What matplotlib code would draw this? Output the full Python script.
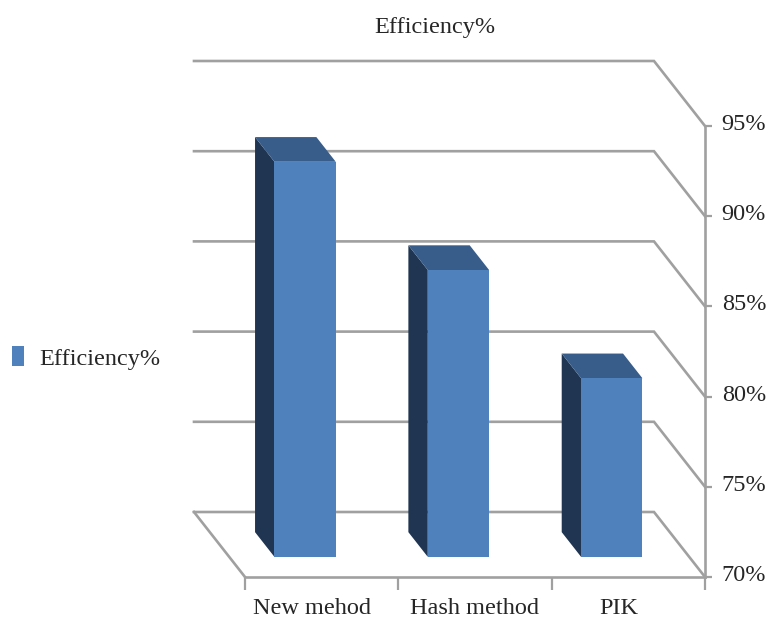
import matplotlib

matplotlib.use('agg')
import matplotlib.pyplot as plt
from matplotlib.patches import Patch, Polygon
from matplotlib.transforms import ScaledTranslation

categories = ['New mehod', 'Hash method', 'PIK']
efficiency = [91.9, 85.9, 79.9]
y_ticks = [70, 75, 80, 85, 90, 95]
series_name = 'Efficiency%'

WIDTH, HEIGHT = 772, 619
GREY = '#a0a0a0'
TEXT = '#262626'
FRONT = '#4f81bd'
SIDE = '#1f3552'
TOP = '#385d8a'

plt.rcParams['font.family'] = ['Liberation Serif', 'DejaVu Serif']
plt.rcParams['font.size'] = 17.5

fig = plt.figure(figsize=(WIDTH / 100, HEIGHT / 100), dpi=100)
# front plane of the oblique box, in figure fractions
ax = fig.add_axes([245 / WIDTH, 1 - 577 / HEIGHT, 460 / WIDTH, 451 / HEIGHT])
ax.set_xlim(0, 3)
ax.set_ylim(70, 95)

# shift in data units for a point at the very back of the box
depth_x = -51 / 460 * 3
depth_y = 65 / 451 * 25


def project(x, y, depth):
    return x + depth * depth_x, y + depth * depth_y


# back wall lines and the diagonals coming forward to the value axis
for v in y_ticks:
    ax.plot(*zip(project(0, v, 1), project(3, v, 1), project(3, v, 0)),
            color=GREY, lw=1.9, clip_on=False, zorder=1, solid_joinstyle='miter')
ax.plot(*zip(project(0, 70, 1), project(0, 70, 0)),
        color=GREY, lw=1.9, clip_on=False, zorder=1)

# each bar: side and top faces first, then the front
bar_w = 0.4
near, far = 0.31, 0.69
for i, v in enumerate(efficiency):
    left, right = i + 0.495 - bar_w / 2, i + 0.495 + bar_w / 2
    ax.add_patch(Polygon([project(left, 70, near), project(left, v, near),
                          project(left, v, far), project(left, 70, far)],
                         fc=SIDE, ec='none', clip_on=False, zorder=3))
    ax.add_patch(Polygon([project(left, v, near), project(right, v, near),
                          project(right, v, far), project(left, v, far)],
                         fc=TOP, ec='none', clip_on=False, zorder=3))
    ax.add_patch(Polygon([project(left, 70, near), project(right, 70, near),
                          project(right, v, near), project(left, v, near)],
                         fc=FRONT, ec='none', clip_on=False, zorder=4))

for side in ['top', 'left']:
    ax.spines[side].set_visible(False)
for side in ['right', 'bottom']:
    ax.spines[side].set_color(GREY)
    ax.spines[side].set_linewidth(1.9)
ax.patch.set_visible(False)

ax.yaxis.tick_right()
ax.set_yticks(y_ticks)
ax.set_yticklabels(['%d%%' % v for v in y_ticks])
ax.tick_params(axis='y', length=5, width=1.6, color=GREY, pad=7, labelcolor=TEXT)
nudge = ScaledTranslation(0, 4 / 100, fig.dpi_scale_trans)
for label in ax.get_yticklabels():
    label.set_transform(label.get_transform() + nudge)

# category dividers as minor ticks, labels between them
ax.set_xticks([0, 1, 2, 3], minor=True)
ax.set_xticks([i + 0.5 for i in range(len(categories))])
ax.set_xticklabels(categories)
ax.tick_params(axis='x', which='major', length=0, pad=15, labelcolor=TEXT)
ax.tick_params(axis='x', which='minor', length=9, width=1.6, color=GREY)
for label, px in zip(ax.get_xticklabels(), [-10, 0, -10]):
    label.set_transform(label.get_transform()
                        + ScaledTranslation(px / 100, 0, fig.dpi_scale_trans))

fig.text(435 / WIDTH, 1 - 27 / HEIGHT, series_name, ha='center', va='center', color=TEXT)

fig.legend(handles=[Patch(fc=FRONT, ec='none', label=series_name)],
           loc='center left', bbox_to_anchor=(12 / WIDTH, 1 - 358 / HEIGHT),
           frameon=False, handlelength=0.49, handleheight=0.9, handletextpad=0.65,
           labelcolor=TEXT, borderpad=0, borderaxespad=0)

fig.savefig('out.png', dpi=100)
